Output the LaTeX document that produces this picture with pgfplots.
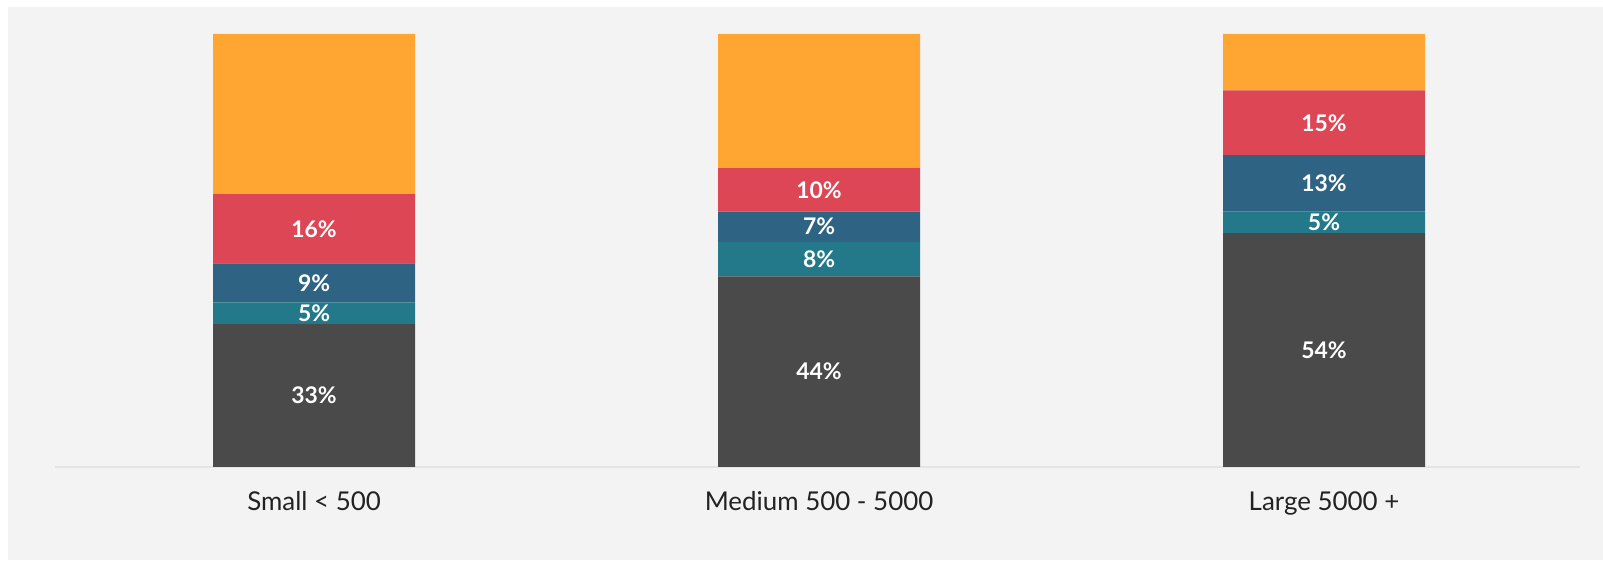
\documentclass[border=0pt]{standalone}
\usepackage{pgfplots}
\pgfplotsset{compat=1.18}
\usepackage{pgfplotstable}
\usepackage{fontspec}
\setmainfont{Lato}
\definecolor{cOrange}{HTML}{FFA531}
\definecolor{cRed}{HTML}{DD4654}
\definecolor{cBlue}{HTML}{2F6384}
\definecolor{cTeal}{HTML}{23798A}
\definecolor{cDark}{HTML}{4A4A4A}
\definecolor{bgGray}{HTML}{F3F3F3}
\definecolor{lineGray}{HTML}{E4E4E4}
\definecolor{txt}{HTML}{222222}

\pgfplotstableread{
x v
0 33
1 44
2 54
}\dark
\pgfplotstableread{
x v
0 5
1 8
2 5
}\teal
\pgfplotstableread{
x v
0 9
1 7
2 13
}\blue
\pgfplotstableread{
x v
0 16
1 10
2 15
}\red
\pgfplotstableread{
x v
0 37
1 31
2 13
}\orange

\pgfplotsset{
  lbl/.style={
    nodes near coords={\pgfmathprintnumber[assume math mode=true]{\pgfplotspointmeta}\%},
    point meta=explicit,
    every node near coord/.append style={font=\bfseries\fontsize{23}{27}\selectfont, text=white, anchor=center},
  }
}

\begin{document}
\begin{tikzpicture}[x=1bp,y=1bp]
\fill[white] (0,0) rectangle (1603,561);
\fill[bgGray] (8,1) rectangle (1603,554);
\begin{axis}[
  at={(55bp,94bp)}, anchor=south west, scale only axis,
  width=1525bp, height=433bp,
  ybar stacked, bar width=0.4,
  xmin=-0.513, xmax=2.507, ymin=0, ymax=100,
  enlargelimits=false,
  axis y line=none, axis x line*=bottom,
  x axis line style={draw=lineGray, line width=1.5bp, -},
  xtick={0,1,2},
  xticklabels={Small < 500, Medium 500 - 5000, Large 5000 +},
  major tick length=0pt,
  xticklabel style={font=\fontsize{26}{30}\selectfont, text=txt, yshift=-21bp},
  ytick=\empty,
  clip=false,
]
\addplot[fill=cDark, draw=none, lbl] table[x=x, y=v, meta=v] {\dark};
\addplot[fill=cTeal, draw=none, lbl] table[x=x, y=v, meta=v] {\teal};
\addplot[fill=cBlue, draw=none, lbl] table[x=x, y=v, meta=v] {\blue};
\addplot[fill=cRed, draw=none, lbl] table[x=x, y=v, meta=v] {\red};
\addplot[fill=cOrange, draw=none] table[x=x, y=v] {\orange};
\end{axis}
\end{tikzpicture}
\end{document}
